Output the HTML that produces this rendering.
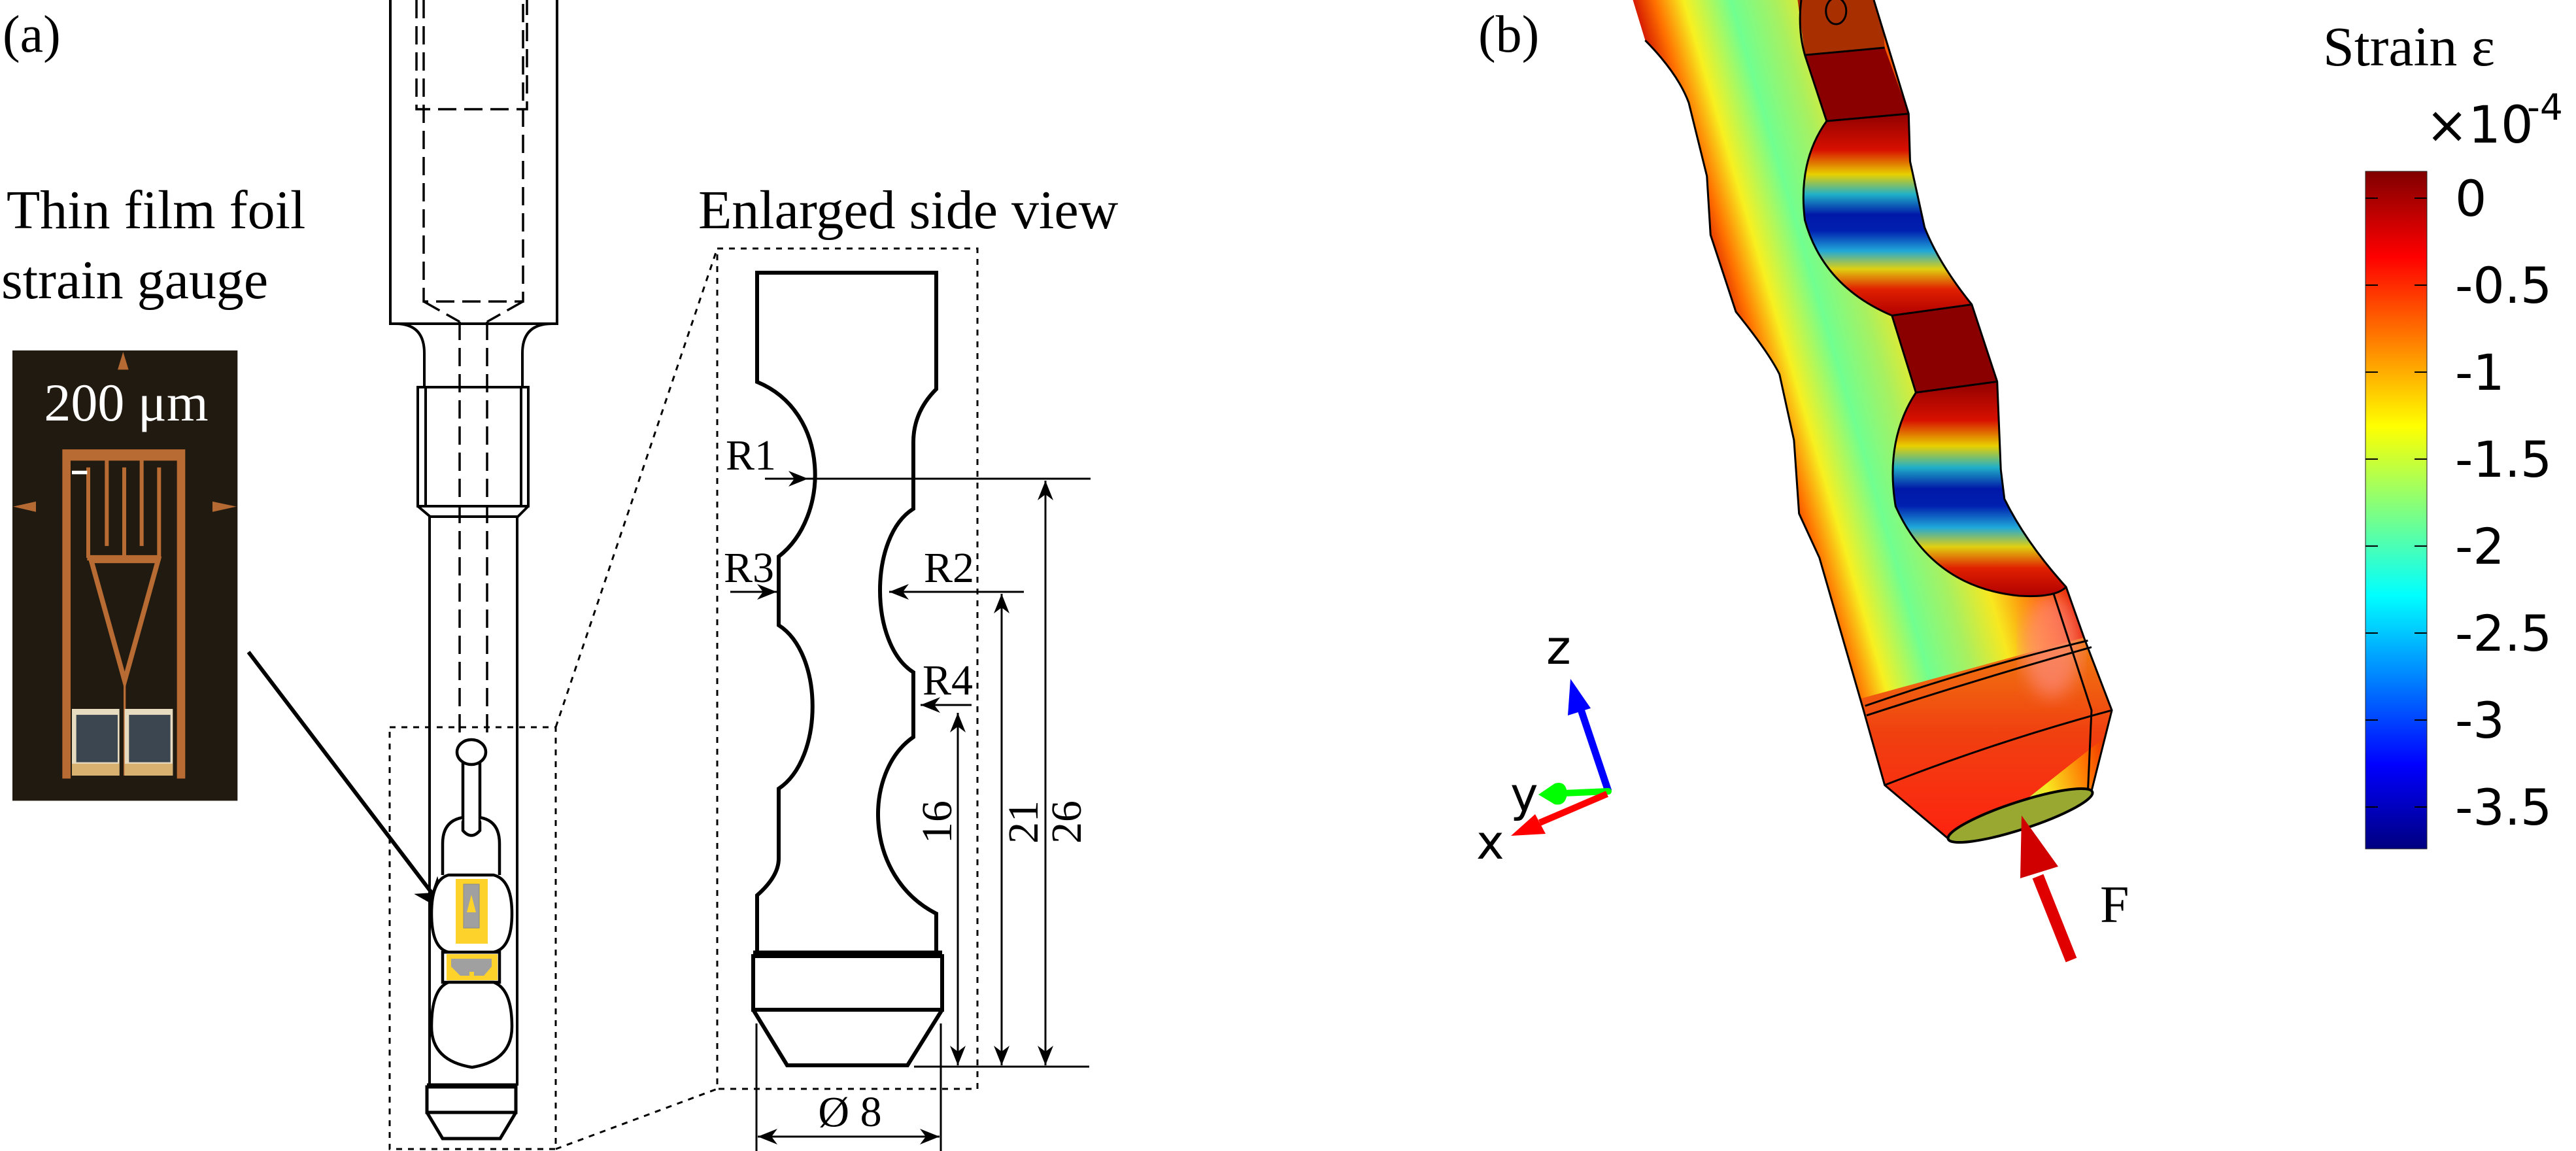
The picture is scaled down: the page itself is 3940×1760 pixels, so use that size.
<!DOCTYPE html>
<html><head><meta charset="utf-8"><style>html,body{margin:0;padding:0;background:#fff}svg{display:block}</style></head>
<body>
<svg xmlns="http://www.w3.org/2000/svg" width="3940" height="1760" viewBox="0 0 3940 1760">
<defs>
<marker id="ar" markerUnits="userSpaceOnUse" markerWidth="40" markerHeight="30" refX="0" refY="0" viewBox="-22 -10 24 20" orient="auto-start-reverse"><path d="M0,0 L-20,-8 L-14,0 L-20,8 Z" fill="#000"/></marker>
<marker id="ar2" markerUnits="userSpaceOnUse" markerWidth="60" markerHeight="50" refX="0" refY="0" viewBox="-45 -20 47 40" orient="auto"><path d="M0,0 L-42,-18 L-30,0 L-42,18 Z" fill="#000"/></marker>
<linearGradient id="jet" x1="0" y1="0" x2="0" y2="1">
<stop offset="0" stop-color="#800000"/><stop offset="0.126" stop-color="#ff0000"/><stop offset="0.376" stop-color="#ffff00"/><stop offset="0.5" stop-color="#80ff80"/><stop offset="0.626" stop-color="#00ffff"/><stop offset="0.876" stop-color="#0000ff"/><stop offset="1" stop-color="#000080"/></linearGradient>
<linearGradient id="body" gradientUnits="userSpaceOnUse" x1="430" y1="540" x2="800" y2="430">
<stop offset="0" stop-color="#d82000"/><stop offset="0.07" stop-color="#ff7000"/><stop offset="0.17" stop-color="#f8f020"/><stop offset="0.33" stop-color="#70ff90"/><stop offset="0.48" stop-color="#a8f060"/><stop offset="0.62" stop-color="#f8e820"/><stop offset="0.78" stop-color="#ff7000"/><stop offset="0.92" stop-color="#e01000"/><stop offset="1" stop-color="#c00000"/></linearGradient>
<linearGradient id="scal" x1="0" y1="0" x2="0" y2="1">
<stop offset="0" stop-color="#900000"/><stop offset="0.18" stop-color="#d81000"/><stop offset="0.3" stop-color="#e8d000"/><stop offset="0.4" stop-color="#20b0c8"/><stop offset="0.5" stop-color="#0018a8"/><stop offset="0.58" stop-color="#0020b0"/><stop offset="0.68" stop-color="#20a8d8"/><stop offset="0.77" stop-color="#e0d010"/><stop offset="0.87" stop-color="#e02000"/><stop offset="1" stop-color="#b00000"/></linearGradient>
<linearGradient id="bot" x1="0" y1="0" x2="0" y2="1"><stop offset="0" stop-color="#f08010"/><stop offset="0.45" stop-color="#f04010"/><stop offset="1" stop-color="#ff2010"/></linearGradient>
<filter id="bl"><feGaussianBlur stdDeviation="12"/></filter>
</defs>

<g font-family="Liberation Serif, serif" fill="#000">
<text x="4" y="79" font-size="80">(a)</text>
<text x="10" y="349" font-size="84">Thin film foil</text>
<text x="2" y="456" font-size="84">strain gauge</text>
<text x="1068" y="349" font-size="84">Enlarged side view</text>
<text x="1110" y="718" font-size="66">R1</text>
<text x="1107" y="890" font-size="66">R3</text>
<text x="1413" y="890" font-size="66">R2</text>
<text x="1411" y="1062" font-size="66">R4</text>
<text transform="translate(1455,1257) rotate(-90)" text-anchor="middle" font-size="66">16</text>
<text transform="translate(1587,1257) rotate(-90)" text-anchor="middle" font-size="66">21</text>
<text transform="translate(1653,1257) rotate(-90)" text-anchor="middle" font-size="66">26</text>
<text x="1300" y="1722" text-anchor="middle" font-size="66">Ø 8</text>
</g>

<g transform="translate(0,520) scale(0.3333,0.453)">
<rect x="57" y="35" width="1033" height="1520" fill="#201a10"/>
<g fill="#b56a34">
<polygon points="540,100 565,40 590,100"/><polygon points="60,562 165,545 165,580"/><polygon points="975,545 1085,562 975,580"/>
</g>
<path d="M305,1480 V388 H831 V1480" fill="none" stroke="#b86b32" stroke-width="38"/>
<g stroke="#b86b32" stroke-width="18" fill="none">
<path d="M405,430 V735 M490,405 V695 M570,430 V735 M650,405 V695 M730,430 V735 M400,735 H738"/>
<polygon points="418,742 726,742 572,1150" stroke-width="22"/>
<path d="M572,1150 V1470" stroke-width="10"/>
</g>
<rect x="330" y="441" width="70" height="12" fill="#fff"/>
<rect x="330" y="1245" width="218" height="225" fill="#e8dcc0"/>
<rect x="572" y="1245" width="221" height="225" fill="#e8dcc0"/>
<rect x="350" y="1265" width="190" height="160" fill="#3c4650"/>
<rect x="592" y="1265" width="190" height="160" fill="#3c4650"/>
<rect x="330" y="1430" width="218" height="40" fill="#d8b070"/>
<rect x="572" y="1430" width="221" height="40" fill="#d8b070"/>
</g>
<text x="193" y="643" font-family="Liberation Serif, serif" font-size="82" fill="#fff" text-anchor="middle">200 μm</text>

<line x1="380" y1="997" x2="683" y2="1395" stroke="#000" stroke-width="6" marker-end="url(#ar2)"/>

<g fill="none" stroke="#000" stroke-width="4">
<path d="M597,0 V495 H852 V0"/>
<path d="M605,495 Q649,495 649,540 V592 M844,495 Q799,495 799,540 V592"/>
<rect x="639" y="592" width="169" height="182"/>
<path d="M651,592 V774 M797,592 V774"/>
<path d="M639,774 L658,790 H792 L808,774"/>
<path d="M657,790 V1660 M791,790 V1660"/>
</g>
<g fill="none" stroke="#000" stroke-width="3.5" stroke-dasharray="28,12">
<path d="M637,0 V167 H806 V0"/>
<path d="M648,0 V461 H800 V0"/>
<path d="M648,461 L703,492 M800,461 L745,492"/>
<path d="M703,492 V1130 M745,492 V1130"/>
</g>
<g fill="#fff" stroke="#000" stroke-width="4.5">
<path d="M708,1155 V1270 Q721,1285 734,1270 V1155 Z"/>
<ellipse cx="721" cy="1150" rx="22" ry="19"/>
<path d="M677,1338 V1290 Q677,1255 708,1250 M734,1250 Q764,1255 764,1290 V1338"/>
<path d="M686,1338 H755 Q783,1345 783,1397 Q783,1450 755,1456 H686 Q660,1450 660,1397 Q660,1345 686,1338 Z"/>
<rect x="677" y="1456" width="87" height="46"/>
<path d="M686,1502 H755 Q783,1512 783,1570 Q783,1622 722,1632 Q660,1622 660,1570 Q660,1512 686,1502 Z"/>
</g>
<rect x="697" y="1344" width="49" height="99" fill="#fdd22a"/>
<rect x="709" y="1352" width="24" height="67" fill="#a0a0a0" stroke="#888" stroke-width="1"/>
<polygon points="721,1368 714,1395 728,1395" fill="#fdd22a"/>
<rect x="683" y="1459" width="78" height="40" fill="#fdd22a"/>
<path d="M690,1466 H752 V1478 L740,1492 H725 V1486 H718 V1492 H704 L690,1478 Z" fill="#a0a0a0"/>
<g fill="none" stroke="#000">
<path d="M653,1660 H789" stroke-width="7"/>
<rect x="653" y="1662" width="136" height="39" stroke-width="5"/>
<path d="M653,1701 L677,1741 H765 L789,1701" stroke-width="5"/>
</g>

<g fill="none" stroke="#000" stroke-width="3" stroke-dasharray="9,9">
<rect x="596" y="1112" width="254" height="645"/>
<rect x="1097" y="380" width="398" height="1285"/>
<path d="M850,1112 L1097,380 M850,1757 L1097,1665"/>
</g>

<g fill="none" stroke="#000" stroke-width="6" stroke-linejoin="miter">
<path d="M1158,417 H1432 V595 Q1397,630 1397,676 V778 C1329,820 1329,985 1397,1028 V1127 C1320,1180 1320,1340 1432,1397 V1459 H1158 V1369 Q1191,1340 1191,1313 V1206 C1260,1160 1260,1000 1191,956 V851 C1270,790 1270,630 1158,584 Z"/>
<path d="M1152,1459 H1441" stroke-width="11"/>
<rect x="1152" y="1462" width="289" height="82"/>
<path d="M1152,1544 L1204,1629 H1388 L1441,1544"/>
</g>
<g fill="none" stroke="#000" stroke-width="3">
<line x1="1170" y1="732" x2="1236" y2="732" marker-end="url(#ar)"/>
<line x1="1236" y1="732" x2="1668" y2="732"/>
<line x1="1117" y1="905" x2="1188" y2="905" marker-end="url(#ar)"/>
<line x1="1566" y1="905" x2="1360" y2="905" marker-end="url(#ar)"/>
<line x1="1486" y1="1078" x2="1408" y2="1078" marker-end="url(#ar)"/>
<line x1="1398" y1="1631" x2="1666" y2="1631"/>
<line x1="1465" y1="1090" x2="1465" y2="1629" marker-start="url(#ar)" marker-end="url(#ar)"/>
<line x1="1532" y1="908" x2="1532" y2="1629" marker-start="url(#ar)" marker-end="url(#ar)"/>
<line x1="1599" y1="735" x2="1599" y2="1629" marker-start="url(#ar)" marker-end="url(#ar)"/>
<line x1="1157" y1="1565" x2="1157" y2="1760"/>
<line x1="1439" y1="1565" x2="1439" y2="1760"/>
<line x1="1159" y1="1738" x2="1437" y2="1738" marker-start="url(#ar)" marker-end="url(#ar)"/>
</g>

<text x="2261" y="79" font-family="Liberation Serif, serif" font-size="80">(b)</text>
<clipPath id="sil"><path transform="translate(2200,0) scale(1.11,1.122)" d="M268,0 L285,55 Q330,100 345,140 L370,240 L375,320 L410,425 Q455,480 470,510 L490,600 L497,700 L525,760 L585,965 L615,1070 L705,1145 L900,1078 L928,968 L890,870 L865,800 Q810,740 780,680 L775,640 L770,520 L735,415 Q690,360 670,310 L650,220 L648,155 L600,0 Z"/></clipPath>
<g clip-path="url(#sil)">
<g transform="translate(2200,0) scale(1.11,1.122)">
<rect x="200" y="0" width="800" height="1200" fill="url(#body)"/>
<path d="M560,958 L900,866 L950,980 L720,1160 L590,1080 Z" fill="url(#bot)"/>
<ellipse cx="845" cy="880" rx="40" ry="70" fill="#ff9090" opacity="0.6" filter="url(#bl)"/>
<path d="M505,75 L615,65 L648,155 L535,165 Z" fill="#8a0000"/>
<path d="M495,0 L610,0 L615,65 L505,75 Z" fill="#a83000"/>
<path d="M625,430 L735,415 L770,520 L658,535 Z" fill="#8a0000"/>
<path d="M535,165 L648,155 L650,220 L670,310 Q690,360 735,415 L625,430 Q530,390 505,300 Q495,220 535,165 Z" fill="url(#scal)"/>
<path d="M658,535 L770,520 L775,640 L780,680 Q810,740 865,800 Q850,815 800,812 Q680,800 630,690 Q615,600 658,535 Z" fill="url(#scal)"/>
</g>
</g>
<g transform="translate(2200,0) scale(1.11,1.122)" fill="none" stroke="#000" stroke-width="3">
<path vector-effect="non-scaling-stroke" d="M285,55 Q330,100 345,140 L370,240 L375,320 L410,425 Q455,480 470,510 L490,600 L497,700 L525,760 L585,965 L615,1070 L705,1145 M900,1078 L928,968 L890,870 L865,800 Q810,740 780,680 L775,640 L770,520 L735,415 Q690,360 670,310 L650,220 L648,155 L600,0"/>
<path vector-effect="non-scaling-stroke" d="M505,75 L615,65 M535,165 L648,155 M625,430 L735,415 M658,535 L770,520 M505,75 L535,165 M625,430 L658,535 M505,75 Q495,40 500,0"/>
<path vector-effect="non-scaling-stroke" d="M535,165 Q495,220 505,300 Q530,390 625,430 M658,535 Q615,600 630,690 Q680,800 800,812 Q850,815 865,800"/>
<path vector-effect="non-scaling-stroke" d="M588,962 Q740,910 895,873 M590,975 Q745,925 900,882 M615,1070 Q770,1010 928,968 M848,810 L900,968 L895,1078"/>
<ellipse vector-effect="non-scaling-stroke" cx="548" cy="15" rx="14" ry="18"/>
</g>
<ellipse cx="3090" cy="1247" rx="116" ry="21" transform="rotate(-18 3090 1247)" fill="#98a830" stroke="#000" stroke-width="4"/>

<line x1="3117" y1="1340" x2="3168" y2="1468" stroke="#e00000" stroke-width="18"/>
<polygon points="3092,1247 3148,1325 3090,1343" fill="#d00000"/>
<text x="3212" y="1410" font-family="Liberation Serif, serif" font-size="80">F</text>

<line x1="2460" y1="1210" x2="2418" y2="1085" stroke="#0000ff" stroke-width="11"/>
<polygon points="2402,1038 2398,1094 2433,1083" fill="#0000ff"/>
<line x1="2460" y1="1210" x2="2390" y2="1213" stroke="#00ff00" stroke-width="10" stroke-linecap="round"/>
<path d="M2353,1215 L2378,1198 Q2395,1193 2397,1213 Q2395,1233 2378,1230 Z" fill="#00ff00"/>
<line x1="2458" y1="1214" x2="2355" y2="1258" stroke="#ff0000" stroke-width="10"/>
<polygon points="2311,1278 2348,1245 2364,1275" fill="#ff0000"/>
<g font-family="DejaVu Sans, sans-serif" font-size="72" fill="#000">
<text x="2365" y="1015">z</text>
<text x="2310" y="1240">y</text>
<text x="2258" y="1313">x</text>
</g>

<text x="3553" y="100" font-family="Liberation Serif, serif" font-size="86">Strain ε</text>
<g font-family="DejaVu Sans, sans-serif" fill="#000">
<text x="3710" y="218" font-size="78">×10</text>
<text x="3865" y="183" font-size="55">-4</text>
</g>
<rect x="3618" y="262" width="94" height="1036" fill="url(#jet)" stroke="#222" stroke-width="1"/>
<g stroke="#000" stroke-width="2">
<path d="M3618,303 h19 M3693,303 h19 M3618,436 h19 M3693,436 h19 M3618,569 h19 M3693,569 h19 M3618,702 h19 M3693,702 h19 M3618,835 h19 M3693,835 h19 M3618,968 h19 M3693,968 h19 M3618,1101 h19 M3693,1101 h19 M3618,1234 h19 M3693,1234 h19"/>
</g>
<g font-family="DejaVu Sans, sans-serif" font-size="76" fill="#000">
<text x="3755" y="330">0</text>
<text x="3755" y="463">-0.5</text>
<text x="3755" y="596">-1</text>
<text x="3755" y="729">-1.5</text>
<text x="3755" y="862">-2</text>
<text x="3755" y="995">-2.5</text>
<text x="3755" y="1128">-3</text>
<text x="3755" y="1261">-3.5</text>
</g>
</svg>
</body></html>
